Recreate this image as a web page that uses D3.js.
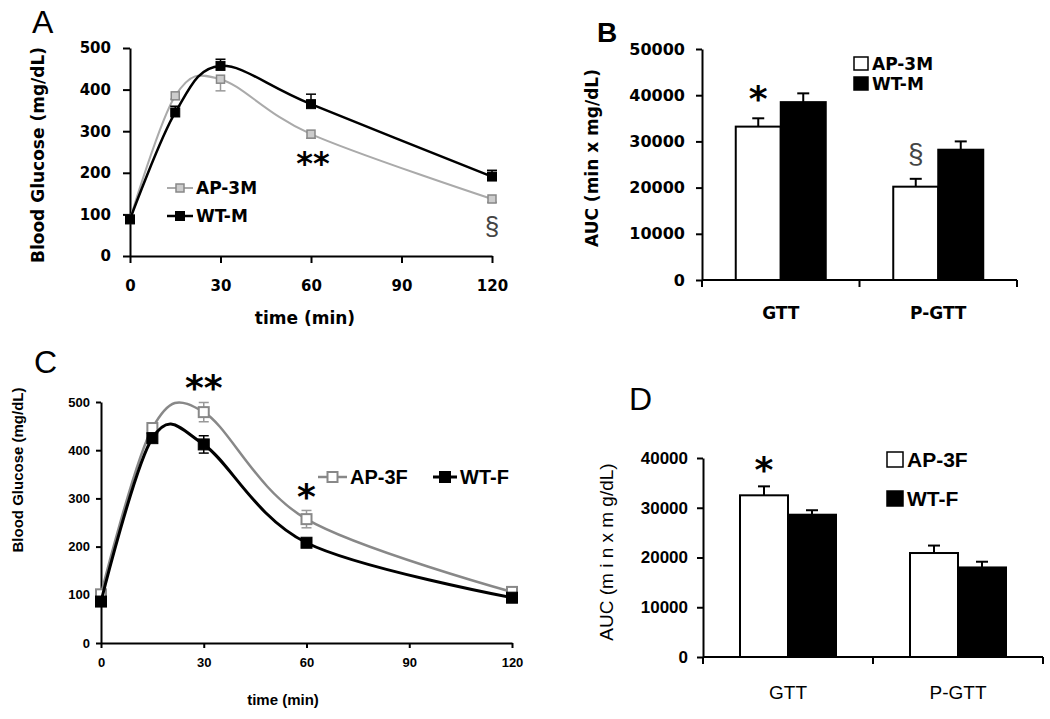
<!DOCTYPE html>
<html>
<head>
<meta charset="utf-8">
<script src="https://cdn.jsdelivr.net/npm/d3@7"></script>
<style>
  body { margin: 0; background: #fff; }
  svg { display: block; }
</style>
</head>
<body>
<div id="chart"></div>
<script>
// sampling times of the glucose tolerance test (min)
var timePoints = [0, 15, 30, 60, 120];
var timeTicks = [0, 30, 60, 90, 120];
var glucoseTicks = [0, 100, 200, 300, 400, 500];

// panel A - males
var ap3mGlucose = [88, 385, 425, 293, 137];
var ap3mErr = [6, 8, 28, 10, 8];
var wtmGlucose = [88, 345, 457, 365, 191];
var wtmErr = [6, 15, 16, 24, 15];

// panel C - females
var ap3fGlucose = [101, 446, 479, 257, 106];
var ap3fErr = [5, 10, 20, 18, 5];
var wtfGlucose = [86, 425, 412, 208, 94];
var wtfErr = [5, 8, 18, 8, 5];

// AUC panels
var aucCategories = ['GTT', 'P-GTT'];
var aucTicksB = [0, 10000, 20000, 30000, 40000, 50000];
var aucTicksD = [0, 10000, 20000, 30000, 40000];

// panel B - males
var aucAp3m = [33200, 20200];
var aucAp3mErr = [1800, 1700];
var aucWtm = [38500, 28200];
var aucWtmErr = [1900, 1800];

// panel D - females
var aucAp3f = [32500, 20900];
var aucAp3fErr = [1800, 1500];
var aucWtf = [28600, 18000];
var aucWtfErr = [900, 1150];

var DJV = '"DejaVu Sans", Verdana, sans-serif';
var ARIAL = '"Liberation Sans", Arial, sans-serif';

var svg = d3.select('#chart').append('svg')
    .attr('width', 1050)
    .attr('height', 719);

function styleAxis(g, font, size, weight) {
    g.select('.domain').attr('stroke', '#000').attr('stroke-width', 2);
    g.selectAll('.tick line').attr('stroke', '#000').attr('stroke-width', 2);
    g.selectAll('.tick text')
        .attr('fill', '#000')
        .style('font-family', font)
        .style('font-size', size + 'px')
        .style('font-weight', weight);
}

function addText(g, txt, x, y, font, size, weight, opts) {
    opts = opts || {};
    var t = g.append('text')
        .attr('x', x)
        .attr('y', y)
        .attr('text-anchor', opts.anchor || 'start')
        .attr('fill', opts.color || '#000')
        .style('font-family', font)
        .style('font-size', size + 'px')
        .style('font-weight', weight)
        .text(txt);
    if (opts.rotate) t.attr('transform', 'rotate(-90,' + x + ',' + y + ')');
    return t;
}

function marker(g, cx, cy, s) {
    return g.append('rect')
        .attr('x', cx - s.size / 2)
        .attr('y', cy - s.size / 2)
        .attr('width', s.size)
        .attr('height', s.size)
        .attr('fill', s.fill)
        .attr('stroke', s.stroke)
        .attr('stroke-width', s.markerStroke);
}

// glucose curve panels (A and C)
function linePanel(o) {
    var g = svg.append('g');
    var x = d3.scaleLinear().domain([0, 120]).range(o.xRange);
    var y = d3.scaleLinear().domain([0, 500]).range(o.yRange);

    var yAxis = g.append('g')
        .attr('transform', 'translate(' + o.xRange[0] + ',0)')
        .call(d3.axisLeft(y).tickValues(glucoseTicks).tickSize(o.tick).tickSizeOuter(0).tickPadding(o.yPad));
    styleAxis(yAxis, o.font, o.tickSize, 'bold');

    var xAxis = g.append('g')
        .attr('transform', 'translate(0,' + o.yRange[0] + ')')
        .call(d3.axisBottom(x).tickValues(timeTicks).tickSize(o.tick).tickSizeOuter(0).tickPadding(o.xPad));
    styleAxis(xAxis, o.font, o.tickSize, 'bold');

    var line = d3.line()
        .x(function(d) { return x(d.t); })
        .y(function(d) { return y(d.v); })
        .curve(d3.curveCardinal.tension(0));

    o.series.forEach(function(s) {
        var pts = timePoints.map(function(t, i) { return {t: t, v: s.values[i], e: s.err[i]}; });
        g.append('path').datum(pts)
            .attr('d', line)
            .attr('fill', 'none')
            .attr('stroke', s.color)
            .attr('stroke-width', s.width);
        pts.forEach(function(p) {
            var lo = s.dir === 'up' ? p.v : p.v - p.e;
            var hi = s.dir === 'down' ? p.v : p.v + p.e;
            g.append('line')
                .attr('x1', x(p.t)).attr('x2', x(p.t))
                .attr('y1', y(lo)).attr('y2', y(hi))
                .attr('stroke', s.errColor).attr('stroke-width', 1.5);
            [lo, hi].forEach(function(v) {
                if (v === p.v) return;
                g.append('line')
                    .attr('x1', x(p.t) - 5).attr('x2', x(p.t) + 5)
                    .attr('y1', y(v)).attr('y2', y(v))
                    .attr('stroke', s.errColor).attr('stroke-width', 1.5);
            });
        });
        pts.forEach(function(p) { marker(g, x(p.t), y(p.v), s); });
    });

    // legend
    o.legend.forEach(function(l) {
        var s = o.series[l.i];
        g.append('line')
            .attr('x1', l.x).attr('x2', l.x + l.len)
            .attr('y1', l.y).attr('y2', l.y)
            .attr('stroke', s.color).attr('stroke-width', s.width);
        marker(g, l.x + l.len / 2, l.y, s);
        addText(g, s.name, l.x + l.len + 3, l.y + l.size * 0.36, o.legendFont, l.size, 'bold');
    });

    // significance marks
    o.marks.forEach(function(m) {
        addText(g, m.text, x(m.t) + (m.dx || 0), y(m.v) + m.dy, m.font, m.size, m.weight,
            {anchor: 'middle', color: m.color});
    });

    addText(g, o.yTitle, o.yTitlePos[0], o.yTitlePos[1], o.font, o.titleSize, 'bold', {anchor: 'middle', rotate: true});
    addText(g, 'time (min)', o.xTitlePos[0], o.xTitlePos[1], o.font, o.titleSize, 'bold', {anchor: 'middle'});
    addText(g, o.letter, o.letterPos[0], o.letterPos[1], ARIAL, o.letterSize, o.letterWeight);
}

// AUC bar panels (B and D)
function barPanel(o) {
    var g = svg.append('g');
    var x = d3.scaleBand().domain(aucCategories).range(o.xRange);
    var bw = x.bandwidth();
    var inner = d3.scaleBand().domain([0, 1]).range([(bw - o.pairWidth) / 2, (bw + o.pairWidth) / 2]);
    var y = d3.scaleLinear().domain([0, o.yMax]).range(o.yRange);

    var yAxis = g.append('g')
        .attr('transform', 'translate(' + o.xRange[0] + ',0)')
        .call(d3.axisLeft(y).tickValues(o.yTicks).tickFormat(d3.format('d'))
            .tickSize(6).tickSizeOuter(0).tickPadding(o.yPad));
    styleAxis(yAxis, o.font, o.tickSize, 'bold');

    o.series.forEach(function(s, si) {
        aucCategories.forEach(function(c, ci) {
            var bx = x(c) + inner(si);
            var cx = bx + inner.bandwidth() / 2;
            var v = s.values[ci], e = s.err[ci];
            g.append('line')
                .attr('x1', cx).attr('x2', cx)
                .attr('y1', y(v)).attr('y2', y(v + e))
                .attr('stroke', '#000').attr('stroke-width', 2);
            g.append('line')
                .attr('x1', cx - 6).attr('x2', cx + 6)
                .attr('y1', y(v + e)).attr('y2', y(v + e))
                .attr('stroke', '#000').attr('stroke-width', 2);
            g.append('rect')
                .attr('x', bx).attr('y', y(v))
                .attr('width', inner.bandwidth())
                .attr('height', y(0) - y(v))
                .attr('fill', s.fill)
                .attr('stroke', '#000')
                .attr('stroke-width', 2);
        });
    });

    // x axis line with boundary ticks
    var y0 = o.yRange[0];
    g.append('line')
        .attr('x1', o.xRange[0]).attr('x2', o.xRange[1])
        .attr('y1', y0).attr('y2', y0)
        .attr('stroke', '#000').attr('stroke-width', 2);
    [o.xRange[0], x(aucCategories[1]), o.xRange[1]].forEach(function(px) {
        g.append('line')
            .attr('x1', px).attr('x2', px)
            .attr('y1', y0).attr('y2', y0 + 7)
            .attr('stroke', '#000').attr('stroke-width', 2);
    });
    aucCategories.forEach(function(c) {
        addText(g, c, x(c) + bw / 2, y0 + o.catDy, o.font, o.catSize, o.catWeight, {anchor: 'middle'});
    });

    // legend
    o.series.forEach(function(s, i) {
        var ly = o.legendPos[1] + i * o.legendStep;
        g.append('rect')
            .attr('x', o.legendPos[0]).attr('y', ly)
            .attr('width', o.legendBox[0]).attr('height', o.legendBox[1])
            .attr('fill', s.fill).attr('stroke', '#000').attr('stroke-width', 1.5);
        addText(g, s.name, o.legendPos[0] + o.legendBox[0] + 4, ly + o.legendBox[1], o.font, o.legendSize, 'bold');
    });

    o.marks.forEach(function(m) {
        var s = o.series[m.s];
        var cx = x(aucCategories[m.c]) + inner(m.s) + inner.bandwidth() / 2;
        addText(g, m.text, cx, y(s.values[m.c] + s.err[m.c]) + m.dy, m.font, m.size, m.weight,
            {anchor: 'middle', color: m.color});
    });

    addText(g, o.yTitle, o.yTitlePos[0], o.yTitlePos[1], o.font, o.titleSize, o.titleWeight,
        {anchor: 'middle', rotate: true});
    addText(g, o.letter, o.letterPos[0], o.letterPos[1], ARIAL, o.letterSize, o.letterWeight);
}

// Panel A
linePanel({
    xRange: [130, 492], yRange: [256, 48],
    font: DJV, tickSize: 15, titleSize: 17, tick: 7, yPad: 12, xPad: 17,
    legendFont: DJV,
    series: [
        {name: 'AP-3M', values: ap3mGlucose, err: ap3mErr, dir: 'down', color: '#aaaaaa', width: 2,
         errColor: '#999', size: 8, fill: '#cccccc', stroke: '#888', markerStroke: 1.5},
        {name: 'WT-M', values: wtmGlucose, err: wtmErr, dir: 'up', color: '#000', width: 2.5,
         errColor: '#000', size: 9, fill: '#000', stroke: '#000', markerStroke: 1}
    ],
    legend: [
        {i: 0, x: 167, y: 188, len: 26, size: 17},
        {i: 1, x: 167, y: 216, len: 26, size: 17}
    ],
    marks: [
        {text: '**', t: 60, v: 293, dx: 2, dy: 40, font: DJV, size: 32, weight: 'bold', color: '#000'},
        {text: '§', t: 120, v: 137, dy: 36, font: ARIAL, size: 26, weight: 'normal', color: '#444'}
    ],
    yTitle: 'Blood Glucose (mg/dL)', yTitlePos: [44, 155],
    xTitlePos: [305, 324],
    letter: 'A', letterPos: [32, 33], letterSize: 32, letterWeight: 'normal'
});

// Panel B
barPanel({
    xRange: [702, 1017], yRange: [280, 49], yMax: 50000, yTicks: aucTicksB, pairWidth: 90,
    font: DJV, tickSize: 16, yPad: 11, catDy: 39, catSize: 17, catWeight: 'bold',
    series: [
        {name: 'AP-3M', values: aucAp3m, err: aucAp3mErr, fill: '#fff'},
        {name: 'WT-M', values: aucWtm, err: aucWtmErr, fill: '#000'}
    ],
    legendPos: [854, 57], legendBox: [14, 13], legendStep: 20, legendSize: 17,
    marks: [
        {text: '*', s: 0, c: 0, dy: -7, font: DJV, size: 36, weight: 'bold', color: '#000'},
        {text: '§', s: 0, c: 1, dy: -16, font: ARIAL, size: 28, weight: 'normal', color: '#444'}
    ],
    yTitle: 'AUC (min x mg/dL)', yTitlePos: [598, 158], titleSize: 17, titleWeight: 'bold',
    letter: 'B', letterPos: [597, 42], letterSize: 28, letterWeight: 'bold'
});

// Panel C
linePanel({
    xRange: [101, 512], yRange: [643, 402],
    font: ARIAL, tickSize: 13, titleSize: 15, tick: 5, yPad: 6, xPad: 10,
    legendFont: ARIAL,
    series: [
        {name: 'AP-3F', values: ap3fGlucose, err: ap3fErr, dir: 'both', color: '#888888', width: 2.5,
         errColor: '#999', size: 10, fill: '#fff', stroke: '#888', markerStroke: 2},
        {name: 'WT-F', values: wtfGlucose, err: wtfErr, dir: 'both', color: '#000', width: 3,
         errColor: '#000', size: 11, fill: '#000', stroke: '#000', markerStroke: 1}
    ],
    legend: [
        {i: 0, x: 318, y: 477, len: 29, size: 20},
        {i: 1, x: 433, y: 477, len: 24, size: 20}
    ],
    marks: [
        {text: '**', t: 30, v: 479, dy: -12, font: DJV, size: 36, weight: 'bold', color: '#000'},
        {text: '*', t: 60, v: 257, dy: -10, font: DJV, size: 36, weight: 'bold', color: '#000'}
    ],
    yTitle: 'Blood Glucose (mg/dL)', yTitlePos: [23, 470],
    xTitlePos: [283, 705],
    letter: 'C', letterPos: [34, 373], letterSize: 32, letterWeight: 'normal'
});

// Panel D
barPanel({
    xRange: [703, 1043], yRange: [657, 458], yMax: 40000, yTicks: aucTicksD, pairWidth: 96,
    font: ARIAL, tickSize: 17, yPad: 9, catDy: 42, catSize: 19, catWeight: 'normal',
    series: [
        {name: 'AP-3F', values: aucAp3f, err: aucAp3fErr, fill: '#fff'},
        {name: 'WT-F', values: aucWtf, err: aucWtfErr, fill: '#000'}
    ],
    legendPos: [887, 452], legendBox: [16, 15], legendStep: 39, legendSize: 21,
    marks: [
        {text: '*', s: 0, c: 0, dy: -4, font: DJV, size: 36, weight: 'bold', color: '#000'}
    ],
    yTitle: 'AUC (m i n x m g/dL)', yTitlePos: [613, 552], titleSize: 19, titleWeight: 'normal',
    letter: 'D', letterPos: [629, 410], letterSize: 32, letterWeight: 'normal'
});
</script>
</body>
</html>
